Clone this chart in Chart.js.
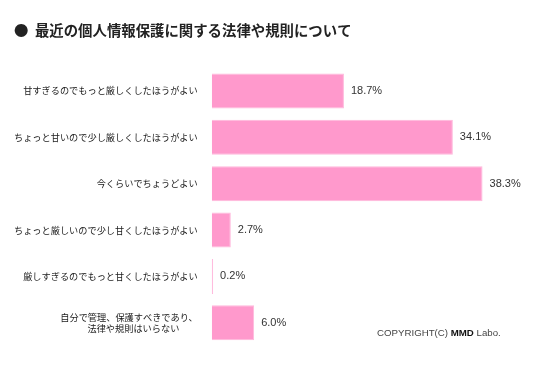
<!DOCTYPE html>
<html>
<head>
<meta charset="utf-8">
<script src="https://cdn.jsdelivr.net/npm/chart.js@4"></script>
<style>
  body { margin: 0; background: #fff; }
  #wrap { width: 547px; height: 372px; }
</style>
</head>
<body>
<div id="wrap"><canvas id="lawChart"></canvas></div>
<script>
// Survey answers (categories) and share of respondents (%)
const categories = [
    '甘すぎるのでもっと厳しくしたほうがよい',
    'ちょっと甘いので少し厳しくしたほうがよい',
    '今くらいでちょうどよい',
    'ちょっと厳しいので少し甘くしたほうがよい',
    '厳しすぎるのでもっと甘くしたほうがよい',
    ['自分で管理、保護すべきであり、', '法律や規則はいらない　　']
];
const shares = [18.7, 34.1, 38.3, 2.7, 0.2, 6.0];
const titleText = '●  最近の個人情報保護に関する法律や規則について';

const jpFont = '"Noto Sans CJK JP", "Noto Sans", sans-serif';

// percent label at the end of each bar
const valueLabels = {
    id: 'valueLabels',
    afterDatasetsDraw(chart) {
        const ctx = chart.ctx;
        const meta = chart.getDatasetMeta(0);
        ctx.save();
        ctx.font = '11px "Liberation Sans", Arial, sans-serif';
        ctx.fillStyle = '#333';
        ctx.textBaseline = 'middle';
        meta.data.forEach((bar, i) => {
            ctx.fillText(shares[i].toFixed(1) + '%', bar.x + 7, bar.y);
        });
        ctx.restore();
    }
};

// copyright note bottom right
const copyright = {
    id: 'copyright',
    afterDraw(chart) {
        const ctx = chart.ctx;
        const f = '9.7px "Liberation Sans", Arial, sans-serif';
        let x = 377, y = 333;
        ctx.save();
        ctx.textBaseline = 'middle';
        ctx.font = f;
        ctx.fillStyle = '#444';
        ctx.fillText('COPYRIGHT(C) ', x, y);
        x += ctx.measureText('COPYRIGHT(C) ').width;
        ctx.font = 'bold ' + f;
        ctx.fillStyle = '#111';
        ctx.fillText('MMD', x, y);
        x += ctx.measureText('MMD').width;
        ctx.font = f;
        ctx.fillStyle = '#444';
        ctx.fillText(' Labo.', x, y);
        ctx.restore();
    }
};

new Chart(document.getElementById('lawChart'), {
    type: 'bar',
    data: {
        labels: categories,
        datasets: [{
            data: shares,
            backgroundColor: '#ff99cc',
            borderColor: '#ffb8dc',
            borderWidth: 1,
            barPercentage: 0.755,
            categoryPercentage: 1
        }]
    },
    options: {
        indexAxis: 'y',
        responsive: true,
        maintainAspectRatio: false,
        animation: false,
        layout: { padding: { left: 14, right: 10, top: 0, bottom: 26 } },
        plugins: {
            legend: { display: false },
            tooltip: { enabled: false },
            title: {
                display: true,
                text: titleText,
                align: 'start',
                color: '#222',
                font: { family: jpFont, size: 14.4, weight: 'bold' },
                padding: { top: 22, bottom: 28.5 }
            }
        },
        scales: {
            x: {
                display: false,
                min: 0,
                max: 46
            },
            y: {
                grid: { display: false, drawTicks: false },
                border: { display: false },
                afterFit(scale) { scale.width = 197.7; },
                ticks: {
                    padding: 14,
                    color: '#1a1a1a',
                    font: { family: jpFont, size: 9.2 }
                }
            }
        }
    },
    plugins: [valueLabels, copyright]
});
</script>
</body>
</html>
